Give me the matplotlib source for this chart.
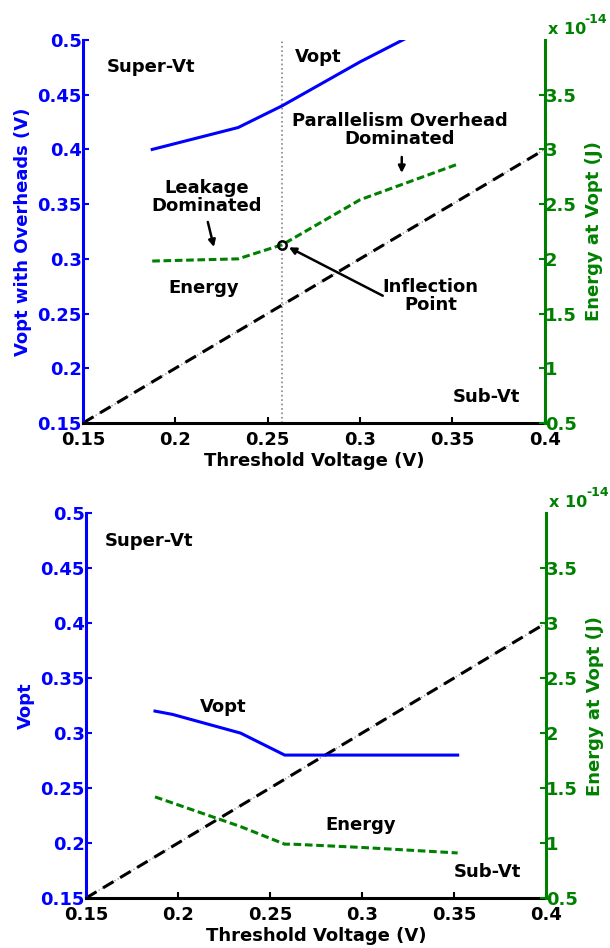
import numpy as np
import matplotlib
matplotlib.use('Agg')
import matplotlib.pyplot as plt
from matplotlib.ticker import FuncFormatter

plt.rcParams['font.family'] = ['DejaVu Sans']
plt.rcParams['font.weight'] = 'bold'
plt.rcParams['font.size'] = 13

BLUE = '#0000ff'
GREEN = '#008000'

# top panel: with parallelism overheads
vt_top = [0.1875, 0.234, 0.258, 0.30, 0.352]
vopt_top = [0.40, 0.42, 0.44, 0.48, 0.525]
energy_top = [1.98, 2.0, 2.13, 2.54, 2.86]          # x 1e-14 J
inflection = (0.258, 2.13)

# bottom panel: no overheads
vt_bot = [0.1875, 0.197, 0.234, 0.258, 0.30, 0.352]
vopt_bot = [0.32, 0.317, 0.30, 0.28, 0.28, 0.28]
vt_bot_e = [0.1875, 0.234, 0.258, 0.262, 0.30, 0.352]
energy_bot = [1.42, 1.15, 0.99, 0.99, 0.96, 0.91]

vt_diag = [0.15, 0.4]
yticks_left = [0.15, 0.2, 0.25, 0.3, 0.35, 0.4, 0.45, 0.5]
yticks_right = [0.5, 1, 1.5, 2, 2.5, 3, 3.5]
xticks = [0.15, 0.2, 0.25, 0.3, 0.35, 0.4]

fmt = FuncFormatter(lambda v, p: ('%g' % v))

W, H = 610, 948
fig = plt.figure(figsize=(W / 100, H / 100), dpi=100)
ax1 = fig.add_axes([0.136, 0.5538, 0.757, 0.404])
ax3 = fig.add_axes([0.141, 0.0527, 0.754, 0.406])


def setup(ax, ylabel):
    ax.set_xlim(0.15, 0.4)
    ax.set_ylim(0.15, 0.5)
    ax.set_xticks(xticks)
    ax.set_yticks(yticks_left)
    ax.xaxis.set_major_formatter(fmt)
    ax.yaxis.set_major_formatter(fmt)
    ax.spines['top'].set_visible(False)
    ax.spines['right'].set_visible(False)
    ax.spines['left'].set_color(BLUE)
    ax.spines['left'].set_linewidth(2.2)
    ax.spines['bottom'].set_linewidth(2.2)
    ax.tick_params(axis='x', direction='in', length=4, width=1.5, pad=6)
    ax.tick_params(axis='y', direction='in', length=4, width=1.5, colors=BLUE, pad=1)
    ax.set_xlabel('Threshold Voltage (V)', fontweight='bold', labelpad=2)
    ax.set_ylabel(ylabel, color=BLUE, fontweight='bold', labelpad=4)
    ax.patch.set_alpha(0)
    # y = x reference line
    ax.plot(vt_diag, vt_diag, color='#999999', lw=1.0, ls=':', zorder=2)
    ax.plot(vt_diag, vt_diag, color='black', lw=2.2, ls=(0, (4, 2.5)), zorder=2)

    ax2 = ax.twinx()
    ax2.set_ylim(0.5, 4)
    ax2.set_yticks(yticks_right)
    ax2.yaxis.set_major_formatter(fmt)
    for s in ['top', 'left', 'bottom']:
        ax2.spines[s].set_visible(False)
    ax2.spines['right'].set_color(GREEN)
    ax2.spines['right'].set_linewidth(2.2)
    ax2.tick_params(axis='y', direction='in', length=4, width=1.5, colors=GREEN, pad=0)
    ax2.set_ylabel('Energy at Vopt (J)', color=GREEN, fontweight='bold', labelpad=6)

    # exponent label above the right axis
    pos = ax.get_position()
    x0 = pos.x1 + 3 / W
    y0 = pos.y1 + 11 / H
    fig.text(x0, y0, 'x 10', color=GREEN, fontsize=11.5, fontweight='bold', ha='left', va='center')
    fig.text(x0 + 37 / W, y0 + 10 / H, '-14', color=GREEN, fontsize=9, fontweight='bold',
             ha='left', va='center')
    return ax2


ax2 = setup(ax1, 'Vopt with Overheads (V)')
ax1.plot(vt_top, vopt_top, color=BLUE, lw=2.2, clip_on=True)
ax2.plot(vt_top, energy_top, color=GREEN, lw=2.2, ls=(0, (2.5, 1.2)))
ax1.axvline(inflection[0], color='#888888', lw=1.2, ls=':', zorder=1)
ax2.plot([inflection[0]], [inflection[1]], marker='o', ms=6, mfc='none', mec='black', mew=1.8)

ax1.text(0.187, 0.4753, 'Super-Vt', ha='center', va='center')
ax1.text(0.2772, 0.4845, 'Vopt', ha='center', va='center')
ax1.text(0.3216, 0.4178, 'Parallelism Overhead\nDominated', ha='center', va='center', linespacing=1.05)
ax1.text(0.2171, 0.3565, 'Leakage\nDominated', ha='center', va='center', linespacing=1.05)
ax1.text(0.2155, 0.2734, 'Energy', ha='center', va='center')
ax1.text(0.3383, 0.266, 'Inflection\nPoint', ha='center', va='center', linespacing=1.05)
ax1.text(0.3686, 0.1738, 'Sub-Vt', ha='center', va='center')

arrow = dict(arrowstyle='-|>', color='black', lw=1.8, mutation_scale=10, shrinkA=0, shrinkB=0)
ax1.annotate('', xy=(0.2209, 0.3108), xytext=(0.2176, 0.3337), arrowprops=arrow)
ax1.annotate('', xy=(0.3226, 0.3785), xytext=(0.3226, 0.3931), arrowprops=arrow)
ax1.annotate('', xy=(0.2615, 0.3105), xytext=(0.3123, 0.2663), arrowprops=arrow)

ax4 = setup(ax3, 'Vopt')
ax3.plot(vt_bot, vopt_bot, color=BLUE, lw=2.2)
ax4.plot(vt_bot_e, energy_bot, color=GREEN, lw=2.2, ls=(0, (2.5, 1.2)))

ax3.text(0.1842, 0.4745, 'Super-Vt', ha='center', va='center')
ax3.text(0.2245, 0.3236, 'Vopt', ha='center', va='center')
ax3.text(0.2995, 0.2164, 'Energy', ha='center', va='center')
ax3.text(0.368, 0.1736, 'Sub-Vt', ha='center', va='center')

fig.savefig('out.png', dpi=100)
